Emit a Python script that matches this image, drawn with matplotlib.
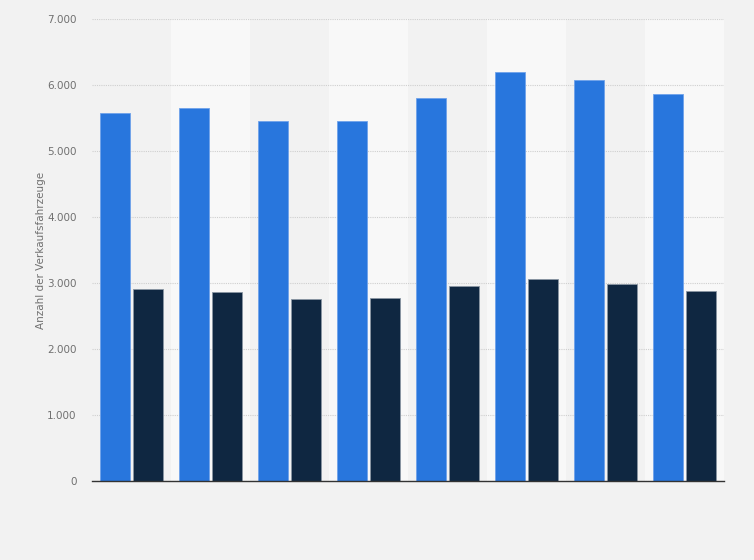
import numpy as np
import matplotlib
matplotlib.use('Agg')
import matplotlib.pyplot as plt
from matplotlib.ticker import FuncFormatter

# values (no category labels shown)
groups = ['1', '2', '3', '4', '5', '6', '7', '8']
series_a = [5580, 5655, 5460, 5460, 5805, 6200, 6080, 5865]
series_b = [2905, 2870, 2765, 2780, 2955, 3060, 2985, 2880]

y_label = 'Anzahl der Verkaufsfahrzeuge'
y_ticks = [0, 1000, 2000, 3000, 4000, 5000, 6000, 7000]

bg = '#f2f2f2'
band = '#f8f8f8'
blue = '#2876dd'
dark = '#0f2741'

fig = plt.figure(figsize=(7.54, 5.6), dpi=100, facecolor=bg)
ax = fig.add_axes([92 / 754, 1 - 481 / 560, (724 - 92) / 754, (481 - 19) / 560])
ax.set_facecolor(bg)

x = np.arange(len(groups))
w = 0.38
gap = 0.025

# alternating column bands
for i in x:
    if i % 2 == 1:
        ax.axvspan(i - 0.5, i + 0.5, color=band, zorder=0, lw=0)

ax.bar(x - w / 2 - gap, series_a, w, color=blue, edgecolor='#6fa2ea', linewidth=0.6, zorder=3)
ax.bar(x + w / 2 + gap, series_b, w, color=dark, edgecolor='#8a96a3', linewidth=0.6, zorder=3)

ax.set_xlim(-0.5, len(groups) - 0.5)
ax.set_ylim(0, 7000)
ax.set_yticks(y_ticks)
ax.yaxis.set_major_formatter(FuncFormatter(lambda v, p: '{:,.0f}'.format(v).replace(',', '.')))
ax.set_xticks([])

ax.grid(axis='y', color='#cfcfcf', linestyle=(0, (1, 1)), linewidth=0.8, zorder=1)
ax.tick_params(axis='y', length=0, pad=11, labelsize=7.5, labelcolor='#707070')

for s in ['top', 'right', 'left']:
    ax.spines[s].set_visible(False)
ax.spines['bottom'].set_color('#333333')
ax.spines['bottom'].set_linewidth(1.0)
ax.spines['bottom'].set_zorder(4)

ax.set_ylabel(y_label, fontsize=7.5, color='#707070')
ax.yaxis.set_label_coords(-0.072, 0.5)

fig.savefig('out.png', dpi=100, facecolor=bg)
